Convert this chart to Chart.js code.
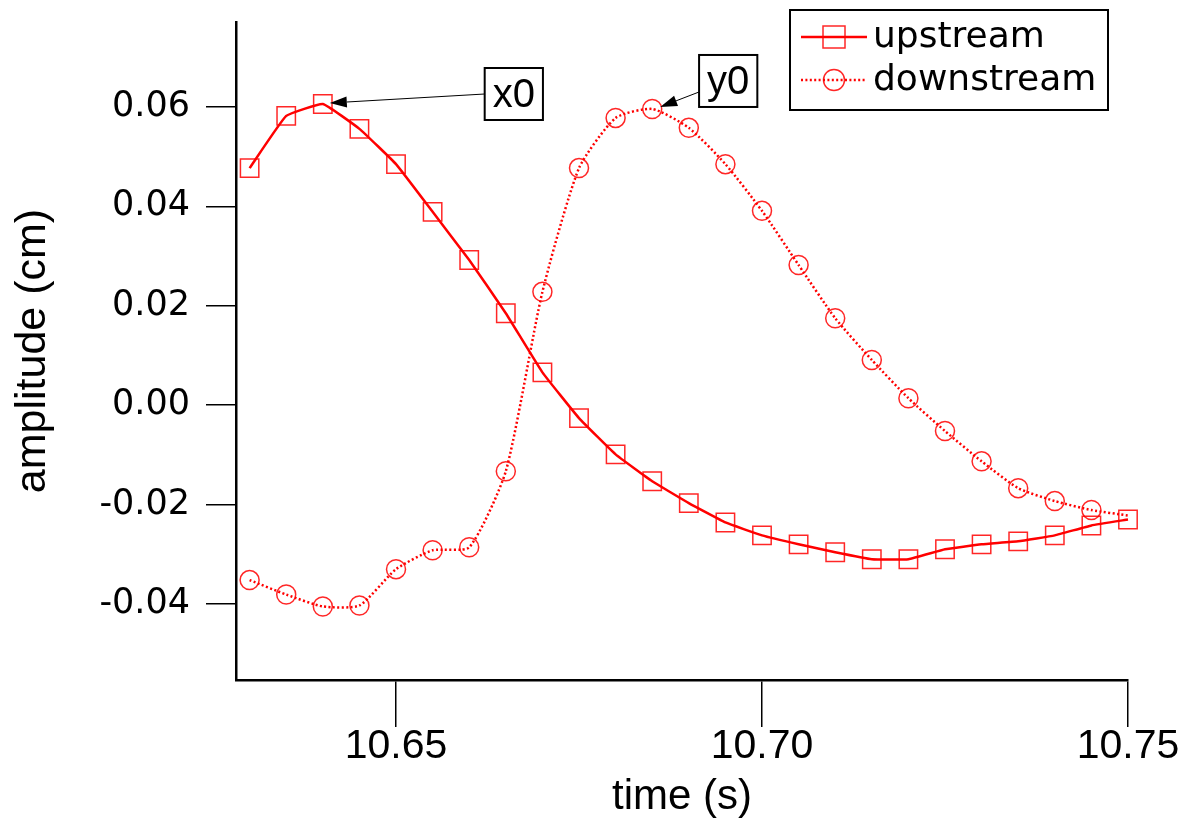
<!DOCTYPE html>
<html>
<head>
<meta charset="utf-8">
<script src="https://cdn.jsdelivr.net/npm/chart.js@4.4.1/dist/chart.umd.min.js"></script>
<style>
  html, body { margin: 0; padding: 0; background: #fff; }
</style>
</head>
<body>
<canvas id="waveChart" width="1189" height="821"></canvas>
<script>
// time axis (s)
const timeValues = [10.630, 10.635, 10.640, 10.645, 10.650, 10.655, 10.660, 10.665, 10.670,
  10.675, 10.680, 10.685, 10.690, 10.695, 10.700, 10.705, 10.710, 10.715, 10.720,
  10.725, 10.730, 10.735, 10.740, 10.745, 10.750];

// amplitude (cm)
const upstream = [0.0477, 0.0582, 0.0606, 0.0556, 0.0485, 0.0389, 0.0292, 0.0185, 0.0066,
  -0.0026, -0.0099, -0.0153, -0.0197, -0.0236, -0.0262, -0.0280, -0.0296, -0.0310, -0.0310,
  -0.0290, -0.0280, -0.0274, -0.0262, -0.0242, -0.0230];
const downstream = [-0.0352, -0.0381, -0.0405, -0.0403, -0.0330, -0.0292, -0.0286, -0.0133, 0.0228,
  0.0477, 0.0578, 0.0596, 0.0558, 0.0485, 0.0391, 0.0282, 0.0175, 0.0091, 0.0014,
  -0.0052, -0.0113, -0.0167, -0.0193, -0.0211, -0.0222];

const seriesNames = ['upstream', 'downstream'];
const peakLabels = ['x0', 'y0'];
const xTicks = [10.65, 10.70, 10.75];
const yTicks = [-0.04, -0.02, 0.00, 0.02, 0.04, 0.06];

const RED = 'rgb(255,0,0)';
const MARK = 'rgba(255,0,0,0.85)';

// small helper: thin line with a filled arrow head at (x2, y2)
function drawArrow(ctx, x1, y1, x2, y2) {
  const ang = Math.atan2(y2 - y1, x2 - x1);
  const len = 17, half = 5.5;
  ctx.save();
  ctx.strokeStyle = '#000';
  ctx.fillStyle = '#000';
  ctx.lineWidth = 1;
  ctx.beginPath();
  ctx.moveTo(x1, y1);
  ctx.lineTo(x2 - Math.cos(ang) * len, y2 - Math.sin(ang) * len);
  ctx.stroke();
  ctx.beginPath();
  ctx.moveTo(x2, y2);
  ctx.lineTo(x2 - Math.cos(ang) * len - Math.sin(ang) * half, y2 - Math.sin(ang) * len + Math.cos(ang) * half);
  ctx.lineTo(x2 - Math.cos(ang) * len + Math.sin(ang) * half, y2 - Math.sin(ang) * len - Math.cos(ang) * half);
  ctx.closePath();
  ctx.fill();
  ctx.restore();
}

function drawTag(ctx, text, cx, cy) {
  ctx.save();
  ctx.font = '40px "Liberation Sans", Arial, sans-serif';
  const w = ctx.measureText(text).width + 16;
  const h = 52;
  ctx.fillStyle = '#fff';
  ctx.fillRect(cx - w / 2, cy - h / 2, w, h);
  ctx.strokeStyle = '#000';
  ctx.lineWidth = 2;
  ctx.strokeRect(cx - w / 2, cy - h / 2, w, h);
  ctx.fillStyle = '#000';
  ctx.textAlign = 'center';
  ctx.textBaseline = 'middle';
  ctx.fillText(text, cx, cy + 2);
  ctx.restore();
  return w;
}

// legend box + peak annotations
const overlayPlugin = {
  id: 'overlay',
  afterDraw(chart) {
    const ctx = chart.ctx;
    const area = chart.chartArea;

    // peak labels
    const upIdx = upstream.indexOf(Math.max(...upstream));
    const dnIdx = downstream.indexOf(Math.max(...downstream));
    const pUp = chart.getDatasetMeta(0).data[upIdx];
    const pDn = chart.getDatasetMeta(1).data[dnIdx];

    const w0 = drawTag(ctx, peakLabels[0], pUp.x + 191, pUp.y - 10);
    drawArrow(ctx, pUp.x + 191 - w0 / 2, pUp.y - 10, pUp.x + 7, pUp.y - 1);
    const w1 = drawTag(ctx, peakLabels[1], pDn.x + 76, pDn.y - 28);
    drawArrow(ctx, pDn.x + 76 - w1 / 2, pDn.y - 17, pDn.x + 8, pDn.y - 2);

    // legend
    const bx = area.right - 338, by = area.top - 12, bw = 318, bh = 100;
    ctx.save();
    ctx.fillStyle = '#fff';
    ctx.fillRect(bx, by, bw, bh);
    ctx.strokeStyle = '#000';
    ctx.lineWidth = 2;
    ctx.strokeRect(bx, by, bw, bh);

    const rows = [by + 27, by + 70];
    chart.data.datasets.forEach((ds, i) => {
      const y = rows[i];
      ctx.strokeStyle = RED;
      ctx.lineWidth = 2.5;
      ctx.setLineDash(ds.borderDash || []);
      ctx.beginPath();
      ctx.moveTo(bx + 11, y);
      ctx.lineTo(bx + 77, y);
      ctx.stroke();
      ctx.setLineDash([]);
      ctx.strokeStyle = MARK;
      ctx.lineWidth = 1.5;
      if (ds.pointStyle === 'rect') {
        ctx.strokeRect(bx + 33, y - 11, 22, 22);
      } else {
        ctx.beginPath();
        ctx.arc(bx + 44, y, 10.5, 0, Math.PI * 2);
        ctx.stroke();
      }
      ctx.fillStyle = '#000';
      ctx.font = '36px "DejaVu Sans", sans-serif';
      ctx.textAlign = 'left';
      ctx.textBaseline = 'middle';
      ctx.fillText(ds.label, bx + 83, y + 1);
    });
    ctx.restore();
  }
};

const ctx = document.getElementById('waveChart').getContext('2d');
new Chart(ctx, {
  type: 'line',
  data: {
    datasets: [{
      label: seriesNames[0],
      data: timeValues.map((t, i) => ({ x: t, y: upstream[i] })),
      borderColor: RED,
      borderWidth: 2.5,
      pointStyle: 'rect',
      pointRadius: 13,
      pointBorderColor: MARK,
      pointBorderWidth: 1.5,
      pointBackgroundColor: 'rgba(0,0,0,0)',
      tension: 0.1,
      fill: false,
      clip: false
    }, {
      label: seriesNames[1],
      data: timeValues.map((t, i) => ({ x: t, y: downstream[i] })),
      borderColor: RED,
      borderWidth: 2.5,
      borderDash: [2, 2.4],
      pointStyle: 'circle',
      pointRadius: c => c.dataIndex === downstream.length - 1 ? 0 : 9.5,
      pointBorderColor: MARK,
      pointBorderWidth: 1.5,
      pointBackgroundColor: 'rgba(0,0,0,0)',
      tension: 0.2,
      fill: false,
      clip: false
    }]
  },
  options: {
    responsive: false,
    animation: false,
    devicePixelRatio: 1,
    layout: { padding: { top: 22, right: 61, left: 0, bottom: 0 } },
    plugins: {
      legend: { display: false },
      tooltip: { enabled: false }
    },
    scales: {
      x: {
        type: 'linear',
        min: 10.62814,
        max: 10.75,
        afterBuildTicks: s => { s.ticks = xTicks.map(v => ({ value: v })); },
        afterFit: s => { s.height = 141; s.paddingLeft = 0; s.paddingRight = 0; },
        border: { display: true, color: '#000', width: 2.5 },
        grid: { drawOnChartArea: false, drawTicks: true, tickLength: 47, color: '#000', lineWidth: 1.5 },
        ticks: {
          color: '#000',
          padding: -5,
          maxRotation: 0,
          font: { family: '"Liberation Sans", Arial, sans-serif', size: 41 },
          callback: v => v.toFixed(2)
        },
        title: {
          display: true,
          text: 'time (s)',
          color: '#000',
          padding: { top: 0, bottom: 0 },
          font: { family: '"Liberation Sans", Arial, sans-serif', size: 42, lineHeight: 1.1 }
        }
      },
      y: {
        min: -0.0553,
        max: 0.0771,
        afterBuildTicks: s => { s.ticks = yTicks.map(v => ({ value: v })); },
        afterFit: s => { s.width = 236; s.paddingTop = 0; s.paddingBottom = 0; },
        border: { display: true, color: '#000', width: 2.5 },
        grid: { drawOnChartArea: false, drawTicks: true, tickLength: 30, color: '#000', lineWidth: 1.5 },
        ticks: {
          color: '#000',
          padding: 16,
          font: { family: '"DejaVu Sans", sans-serif', size: 35 },
          callback: v => v.toFixed(2)
        },
        title: {
          display: true,
          text: 'amplitude (cm)',
          color: '#000',
          padding: { top: 8, bottom: 0 },
          font: { family: '"Liberation Sans", Arial, sans-serif', size: 43, lineHeight: 1.15 }
        }
      }
    }
  },
  plugins: [overlayPlugin]
});
</script>
</body>
</html>
